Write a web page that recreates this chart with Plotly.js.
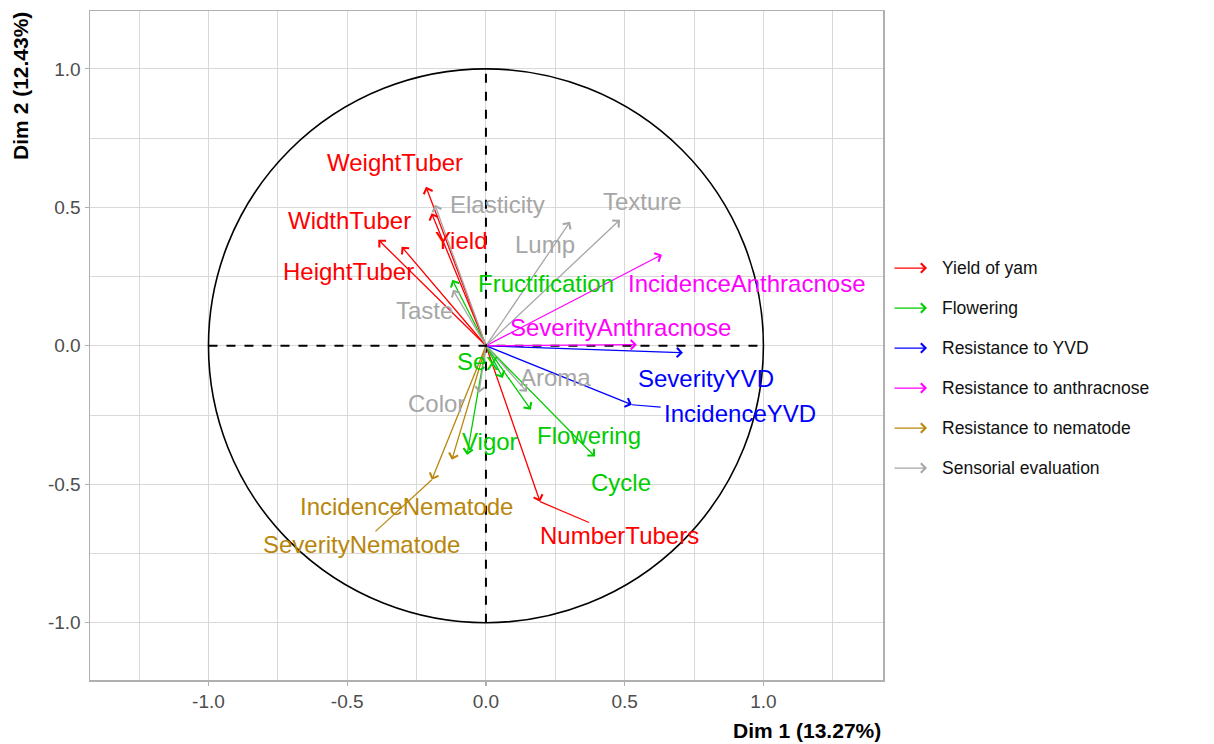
<!DOCTYPE html>
<html>
<head>
<meta charset="utf-8">
<script src="https://cdn.plot.ly/plotly-3.0.1.min.js"></script>
<style>html,body{margin:0;padding:0;background:#fff}#chart{width:1214px;height:744px}</style>
</head>
<body>
<div id="chart"></div>
<script>
// ---- data ----
var variables = ["WeightTuber","Yield","WidthTuber","HeightTuber","NumberTubers",
  "Fructification","Sex","Vigor","Flowering","Cycle",
  "SeverityYVD","IncidenceYVD",
  "IncidenceAnthracnose","SeverityAnthracnose",
  "IncidenceNematode","SeverityNematode",
  "Texture","Lump","Elasticity","Taste","Aroma","Color"];
var dim1 = [-0.216,-0.196,-0.388,-0.304,0.195,
  -0.121,0.061,-0.068,0.162,0.393,
  0.710,0.526,
  0.634,0.544,
  -0.123,-0.195,
  0.483,0.303,-0.184,-0.119,0.148,-0.025];
var dim2 = [0.574,0.479,0.383,0.358,-0.563,
  0.238,-0.116,-0.394,-0.231,-0.400,
  -0.025,-0.213,
  0.329,0.004,
  -0.412,-0.484,
  0.455,0.448,0.509,0.202,-0.166,-0.170];
var groupOf = [0,0,0,0,0, 1,1,1,1,1, 2,2, 3,3, 4,4, 5,5,5,5,5,5];
var groups = ["Yield of yam","Flowering","Resistance to YVD","Resistance to anthracnose","Resistance to nematode","Sensorial evaluation"];
var xTitle = "Dim 1 (13.27%)";
var yTitle = "Dim 2 (12.43%)";
var tickVals = [-1.0,-0.5,0.0,0.5,1.0];
var tickText = ["-1.0","-0.5","0.0","0.5","1.0"];
var minorVals = [-1.25,-0.75,-0.25,0.25,0.75,1.25];

// ---- styling / label placement (repelled label centres, data units) ----
var groupColors = ["#FF0000","#00CC00","#0000FF","#FF00FF","#B8860B","#A6A6A6"];
var labelPos = {
  WeightTuber:[-0.328,0.661], Yield:[-0.09,0.379], WidthTuber:[-0.49,0.451], HeightTuber:[-0.494,0.267],
  NumberTubers:[0.483,-0.686], Fructification:[0.216,0.224], Sex:[-0.029,-0.058], Vigor:[0.014,-0.347],
  Flowering:[0.371,-0.325], Cycle:[0.486,-0.495], SeverityYVD:[0.793,-0.119], IncidenceYVD:[0.915,-0.245],
  IncidenceAnthracnose:[0.94,0.224], SeverityAnthracnose:[0.486,0.065], IncidenceNematode:[-0.288,-0.581],
  SeverityNematode:[-0.45,-0.718], Texture:[0.566,0.52], Lump:[0.213,0.365], Elasticity:[0.04,0.509],
  Taste:[-0.223,0.126], Aroma:[0.252,-0.116], Color:[-0.18,-0.209]
};
var withSegment = ["NumberTubers","IncidenceYVD","SeverityNematode"];
var labelFont = 24;
var pxPerUnit = 277.5;
var FONT = 'Liberation Sans, Arial, sans-serif';

var annotations = [];
var shapes = [];

// unit circle and dashed axes
shapes.push({type:'circle', xref:'x', yref:'y', x0:-1, x1:1, y0:-1, y1:1, line:{color:'#000', width:1.6}});
shapes.push({type:'line', xref:'x', yref:'y', x0:-1, x1:1, y0:0, y1:0, line:{color:'#000', width:2, dash:'dash'}});
shapes.push({type:'line', xref:'x', yref:'y', x0:0, x1:0, y0:-1, y1:1, line:{color:'#000', width:2, dash:'dash'}});

// arrows
for (var i = 0; i < variables.length; i++) {
  var c = groupColors[groupOf[i]];
  annotations.push({x:dim1[i], y:dim2[i], xref:'x', yref:'y', ax:0, ay:0, axref:'x', ayref:'y',
    text:'', showarrow:true, arrowhead:4, arrowsize:1.4, arrowwidth:1.3, arrowcolor:c, standoff:0, startstandoff:0});
}
// labels and repel segments
for (var i = 0; i < variables.length; i++) {
  var name = variables[i], c = groupColors[groupOf[i]], p = labelPos[name];
  if (withSegment.indexOf(name) >= 0) {
    var hw = name.length * 0.55 * labelFont / 2 / pxPerUnit, hh = 0.55 * labelFont / pxPerUnit;
    var dx = p[0] - dim1[i], dy = p[1] - dim2[i];
    var tx = Math.abs(dx) > 1e-9 ? Math.max(0, (Math.abs(dx) - hw) / Math.abs(dx)) : 0;
    var ty = Math.abs(dy) > 1e-9 ? Math.max(0, (Math.abs(dy) - hh) / Math.abs(dy)) : 0;
    var t = Math.min(Math.max(tx, ty), 1);
    shapes.push({type:'line', xref:'x', yref:'y', x0:dim1[i], y0:dim2[i], x1:dim1[i] + dx * t, y1:dim2[i] + dy * t,
      line:{color:c, width:1.2}});
  }
  annotations.push({x:p[0], y:p[1], xref:'x', yref:'y', text:name, showarrow:false,
    font:{family:FONT, size:labelFont, color:c}, xanchor:'center', yanchor:'middle'});
}

// custom legend with arrow keys
var legendY0 = 0.6158, legendStep = 0.0598;
for (var g = 0; g < groups.length; g++) {
  var yy = legendY0 - g * legendStep;
  annotations.push({x:1.0555, y:yy, xref:'paper', yref:'paper', ax:-34, ay:0, text:'', showarrow:true,
    arrowhead:4, arrowsize:1.4, arrowwidth:1.3, arrowcolor:groupColors[g], standoff:0});
  annotations.push({x:1.0718, y:yy, xref:'paper', yref:'paper', text:groups[g], showarrow:false,
    xanchor:'left', yanchor:'middle', font:{family:FONT, size:17.5, color:'#111'}});
}

// axis titles (ggplot-style placement)
annotations.push({x:1, y:-0.076, xref:'paper', yref:'paper', text:'<b>' + xTitle + '</b>', showarrow:false,
  xanchor:'right', yanchor:'middle', font:{family:FONT, size:21, color:'#000'}});
annotations.push({x:-0.088, y:1.002, xref:'paper', yref:'paper', text:'<b>' + yTitle + '</b>', showarrow:false,
  textangle:-90, xanchor:'center', yanchor:'top', font:{family:FONT, size:21, color:'#000'}});

var axisCommon = {
  tickmode:'array', tickvals: tickVals, ticktext: tickText, showgrid:true, gridcolor:'#D9D9D9', gridwidth:1,
  minor:{tickmode:'array', tickvals:minorVals, showgrid:true, gridcolor:'#D9D9D9', gridwidth:1, ticks:''},
  zeroline:false, showline:true, linecolor:'#B0B0B0', linewidth:1.5, mirror:true,
  ticks:'outside', ticklen:4, tickcolor:'#B0B0B0', tickwidth:1.2,
  tickfont:{family:FONT, size:19, color:'#4D4D4D'}
};
var layout = {
  width:1214, height:744,
  margin:{l:90, r:331, t:11, b:64},
  paper_bgcolor:'#fff', plot_bgcolor:'#fff',
  showlegend:false,
  xaxis: Object.assign({}, axisCommon, {range:[-1.427,1.431]}),
  yaxis: Object.assign({}, axisCommon, {range:[-1.207,1.209]}),
  shapes: shapes,
  annotations: annotations
};
var data = [{x:dim1, y:dim2, type:'scatter', mode:'markers', marker:{opacity:0}, hoverinfo:'text', text:variables, showlegend:false}];
Plotly.newPlot('chart', data, layout, {staticPlot:true});
</script>
</body>
</html>
